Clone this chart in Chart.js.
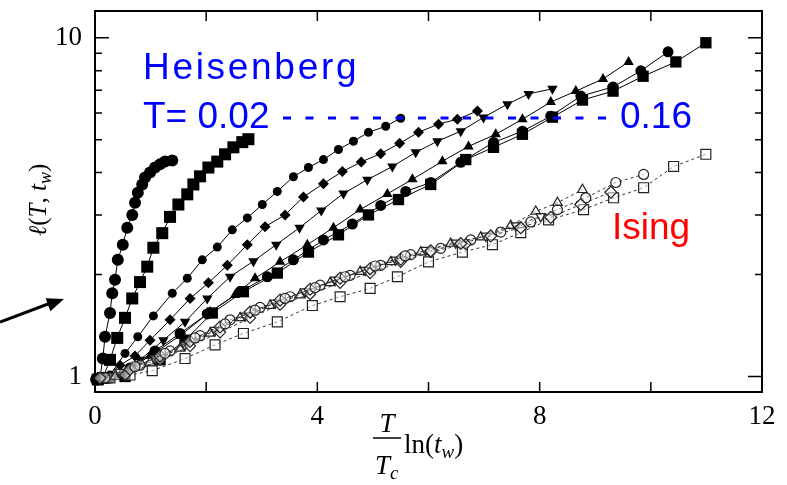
<!DOCTYPE html>
<html>
<head>
<meta charset="utf-8">
<script src="https://cdn.jsdelivr.net/npm/chart.js@4.4.0/dist/chart.umd.min.js"></script>
<style>
  html, body { margin: 0; padding: 0; background: #fff; }
  #wrap { width: 787px; height: 485px; }
</style>
</head>
<body>
<div id="wrap"><canvas id="lengthChart" width="787" height="485"></canvas></div>
<script>
// axis ticks
const xTicks = [0, 2, 4, 6, 8, 10, 12];
const xLabels = [0, 4, 8, 12];
const yTicks = [1, 2, 3, 4, 5, 6, 7, 8, 9, 10];
const yLabels = [1, 10];

// Heisenberg curves (filled symbols, solid lines)
const hCircleX = [0.02, 0.05, 0.09, 0.14, 0.18, 0.27, 0.31, 0.36, 0.41, 0.50, 0.58, 0.67, 0.72, 0.77, 0.85, 0.90, 0.99, 1.08, 1.17, 1.26, 1.39];
const hCircleY = [0.98, 0.98, 0.99, 1.13, 1.31, 1.54, 1.76, 1.93, 2.21, 2.45, 2.75, 3.00, 3.26, 3.49, 3.69, 3.87, 4.00, 4.14, 4.23, 4.31, 4.34];

const hSquareX = [0.05, 0.14, 0.27, 0.40, 0.54, 0.67, 0.81, 0.94, 1.05, 1.21, 1.35, 1.50, 1.66, 1.77, 1.89, 2.04, 2.20, 2.34, 2.49, 2.65, 2.76];
const hSquareY = [0.98, 0.99, 1.12, 1.30, 1.49, 1.70, 1.90, 2.11, 2.40, 2.65, 2.96, 3.22, 3.45, 3.69, 3.90, 4.14, 4.31, 4.53, 4.75, 4.92, 5.02];

const hHexX = [0.09, 0.27, 0.54, 0.77, 1.05, 1.39, 1.66, 1.93, 2.20, 2.47, 2.74, 3.01, 3.28, 3.57, 3.84, 4.11, 4.38, 4.65, 4.92, 5.23, 5.50];
const hHexY = [0.99, 1.01, 1.17, 1.31, 1.51, 1.76, 1.95, 2.21, 2.41, 2.71, 2.94, 3.22, 3.52, 3.89, 4.14, 4.37, 4.68, 4.95, 5.26, 5.48, 5.79];

const hDiamondX = [0.18, 0.45, 0.72, 0.99, 1.35, 1.71, 2.04, 2.38, 2.74, 3.06, 3.42, 3.75, 4.11, 4.45, 4.79, 5.14, 5.48, 5.82, 6.18, 6.52, 6.88];
const hDiamondY = [0.99, 1.08, 1.15, 1.28, 1.47, 1.70, 1.89, 2.13, 2.45, 2.77, 3.00, 3.39, 3.71, 4.03, 4.30, 4.55, 4.88, 5.26, 5.56, 5.75, 6.08];

const hDownX = [0.27, 0.81, 1.23, 1.62, 2.02, 2.43, 2.85, 3.26, 3.68, 4.07, 4.47, 4.90, 5.35, 5.77, 6.16, 6.58, 6.99, 7.42, 7.80, 8.23];
const hDownY = [0.99, 1.12, 1.28, 1.45, 1.70, 1.97, 2.19, 2.45, 2.75, 3.09, 3.47, 3.81, 4.17, 4.59, 4.95, 5.30, 5.82, 6.37, 6.83, 7.07];

const hUpX = [0.45, 0.99, 1.53, 2.07, 2.52, 2.88, 3.33, 3.82, 4.29, 4.77, 5.26, 5.71, 6.25, 6.72, 7.21, 7.69, 8.20, 8.65, 9.14, 9.60];
const hUpY = [1.01, 1.15, 1.32, 1.55, 1.74, 1.95, 2.18, 2.45, 2.75, 3.11, 3.46, 3.82, 4.32, 4.78, 5.19, 5.75, 6.46, 6.96, 7.56, 8.49];

const hDotX = [0.27, 0.63, 1.08, 1.53, 2.02, 2.61, 3.10, 3.57, 4.11, 4.63, 5.14, 5.59, 6.04, 6.58, 7.17, 7.69, 8.20, 8.74, 9.32, 9.82, 10.31];
const hDotY = [0.99, 1.06, 1.19, 1.34, 1.53, 1.78, 1.97, 2.21, 2.53, 2.82, 3.20, 3.52, 3.74, 4.29, 4.91, 5.30, 5.87, 6.73, 7.16, 7.99, 9.09];

const hBoxX = [0.54, 1.17, 1.62, 2.11, 2.67, 3.28, 3.84, 4.38, 4.92, 5.46, 6.04, 6.67, 7.17, 7.69, 8.23, 8.77, 9.32, 9.86, 10.45, 10.99];
const hBoxY = [1.00, 1.12, 1.28, 1.54, 1.78, 2.02, 2.33, 2.62, 3.00, 3.33, 3.69, 4.37, 4.75, 5.19, 5.83, 6.55, 6.96, 7.70, 8.49, 9.67];

// Ising curves (open symbols, dashed lines)
const iSquareX = [0.27, 0.63, 1.03, 1.62, 2.16, 2.67, 3.28, 3.91, 4.41, 4.95, 5.44, 6.00, 6.61, 7.15, 7.66, 8.16, 8.79, 9.33, 9.87, 10.41, 10.99];
const iSquareY = [0.99, 1.01, 1.04, 1.13, 1.24, 1.34, 1.45, 1.62, 1.72, 1.82, 1.97, 2.18, 2.33, 2.45, 2.66, 2.90, 3.11, 3.37, 3.61, 4.17, 4.53];

const iCircleX = [0.18, 0.81, 1.35, 1.89, 2.43, 2.97, 3.51, 4.05, 4.59, 5.14, 5.68, 6.22, 6.76, 7.30, 7.84, 8.32, 8.83, 9.37, 9.87];
const iCircleY = [0.99, 1.08, 1.19, 1.32, 1.47, 1.60, 1.72, 1.86, 1.99, 2.13, 2.29, 2.39, 2.53, 2.67, 2.86, 3.11, 3.37, 3.74, 3.95];

const iUpX = [0.36, 0.99, 1.53, 2.07, 2.61, 3.15, 3.69, 4.23, 4.77, 5.32, 5.86, 6.40, 6.94, 7.48, 7.93, 8.32, 8.77];
const iUpY = [1.00, 1.10, 1.21, 1.34, 1.49, 1.62, 1.74, 1.89, 2.04, 2.18, 2.33, 2.47, 2.58, 2.79, 3.07, 3.26, 3.56];

const iDownX = [0.45, 1.08, 1.62, 2.16, 2.70, 3.24, 3.78, 4.32, 4.86, 5.41, 5.95, 6.49, 7.03, 7.57, 8.02];
const iDownY = [1.03, 1.13, 1.24, 1.37, 1.51, 1.65, 1.78, 1.93, 2.06, 2.21, 2.36, 2.48, 2.60, 2.79, 2.97];

const iDiamondX = [0.54, 1.17, 1.71, 2.25, 2.79, 3.33, 3.87, 4.41, 4.95, 5.50, 6.04, 6.67];
const iDiamondY = [1.01, 1.12, 1.23, 1.35, 1.49, 1.63, 1.75, 1.89, 2.02, 2.18, 2.33, 2.46];

const iHexX = [0.09, 0.63, 1.17, 1.71, 2.25, 2.79, 3.33, 3.87, 4.41, 4.95, 5.50, 6.04, 6.58, 7.12, 7.66, 8.20, 8.74, 9.28];
const iHexY = [0.99, 1.05, 1.15, 1.27, 1.40, 1.55, 1.68, 1.81, 1.95, 2.08, 2.22, 2.35, 2.47, 2.60, 2.75, 2.95, 3.22, 3.50];

const iPentX = [0.72, 1.26, 1.80, 2.34, 2.88, 3.42, 3.96, 4.50, 5.04, 5.58];
const iPentY = [1.07, 1.17, 1.30, 1.43, 1.57, 1.70, 1.83, 1.97, 2.12, 2.27];

function pts(xs, ys) {
  return xs.map((x, i) => ({ x: x, y: ys[i] }));
}

function heis(xs, ys, style, radius, rotation) {
  return {
    data: pts(xs, ys),
    showLine: true,
    borderColor: '#000',
    borderWidth: 1,
    pointStyle: style,
    pointRadius: radius,
    pointRotation: rotation || 0,
    pointBackgroundColor: '#000',
    pointBorderColor: '#000',
    pointBorderWidth: 0,
    clip: false
  };
}

function ising(xs, ys, style, radius, rotation) {
  return {
    data: pts(xs, ys),
    showLine: true,
    borderColor: '#333',
    borderWidth: 1,
    borderDash: [3, 3],
    pointStyle: style,
    pointRadius: radius,
    pointRotation: rotation || 0,
    pointBackgroundColor: 'rgba(255,255,255,0.5)',
    pointBorderColor: '#222',
    pointBorderWidth: 1.2,
    clip: false
  };
}

const datasets = [
  ising(iPentX, iPentY, 'circle', 5),
  ising(iHexX, iHexY, 'rectRot', 6),
  ising(iDiamondX, iDiamondY, 'rectRot', 5.5),
  ising(iDownX, iDownY, 'triangle', 5.5, 180),
  ising(iUpX, iUpY, 'triangle', 5.5),
  ising(iCircleX, iCircleY, 'circle', 5),
  ising(iSquareX, iSquareY, 'rect', 7),
  heis(hCircleX, hCircleY, 'circle', 6),
  heis(hSquareX, hSquareY, 'rect', 8.5),
  heis(hHexX, hHexY, 'circle', 4.5),
  heis(hDiamondX, hDiamondY, 'rectRot', 5.5),
  heis(hDownX, hDownY, 'triangle', 6, 180),
  heis(hUpX, hUpY, 'triangle', 6),
  heis(hDotX, hDotY, 'circle', 5.5),
  heis(hBoxX, hBoxY, 'rect', 8)
];

const serif = '"Liberation Serif", "DejaVu Serif", serif';
const sans = '"Liberation Sans", Arial, sans-serif';

// draw a run of text pieces with mixed fonts, starting at x
function runText(ctx, x, y, pieces) {
  pieces.forEach(p => {
    ctx.font = p.font;
    ctx.fillText(p.t, x, y + (p.dy || 0));
    x += ctx.measureText(p.t).width;
  });
  return x;
}
function runWidth(ctx, pieces) {
  let w = 0;
  pieces.forEach(p => { ctx.font = p.font; w += ctx.measureText(p.t).width; });
  return w;
}

const frame = {
  id: 'frame',
  beforeDatasetsDraw(chart) {
    const { ctx, chartArea: a, scales: { x, y } } = chart;
    ctx.save();
    ctx.strokeStyle = '#000';
    ctx.lineWidth = 1.5;
    ctx.beginPath();
    xTicks.forEach(v => {
      const px = x.getPixelForValue(v);
      ctx.moveTo(px, a.bottom); ctx.lineTo(px, a.bottom - 10);
      ctx.moveTo(px, a.top); ctx.lineTo(px, a.top + 10);
    });
    yTicks.forEach(v => {
      const py = y.getPixelForValue(v);
      const len = yLabels.includes(v) ? 14 : 7;
      ctx.moveTo(a.left, py); ctx.lineTo(a.left + len, py);
      ctx.moveTo(a.right, py); ctx.lineTo(a.right - len, py);
    });
    ctx.stroke();
    ctx.lineWidth = 2;
    ctx.strokeRect(a.left, a.top, a.right - a.left, a.bottom - a.top);
    ctx.restore();
  },
  afterDraw(chart) {
    const ctx = chart.ctx;
    ctx.save();
    ctx.fillStyle = '#000';
    ctx.textBaseline = 'alphabetic';

    // y axis title  l(T, t_w)
    const it = 'italic 25px ' + serif, rm = '25px ' + serif, sub = 'italic 18px ' + serif;
    const yt = [
      { t: 'ℓ', font: it }, { t: '(', font: rm }, { t: 'T', font: it }, { t: ', ', font: rm },
      { t: 't', font: it }, { t: 'w', font: sub, dy: 5 }, { t: ')', font: rm }
    ];
    ctx.translate(46, 200);
    ctx.rotate(-Math.PI / 2);
    runText(ctx, -runWidth(ctx, yt) / 2, 0, yt);
    ctx.setTransform(1, 0, 0, 1, 0, 0);

    // x axis title  T/T_c ln(t_w)
    const it2 = 'italic 27px ' + serif, rm2 = '27px ' + serif, sub2 = 'italic 19px ' + serif;
    ctx.font = it2;
    ctx.textAlign = 'center';
    ctx.fillText('T', 387, 432);
    ctx.textAlign = 'left';
    runText(ctx, 375, 474, [{ t: 'T', font: it2 }, { t: 'c', font: sub2, dy: 5 }]);
    ctx.lineWidth = 1.5;
    ctx.strokeStyle = '#000';
    ctx.beginPath(); ctx.moveTo(373, 438); ctx.lineTo(401, 438); ctx.stroke();
    runText(ctx, 404, 453, [
      { t: 'ln(', font: rm2 }, { t: 't', font: it2 }, { t: 'w', font: sub2, dy: 5 }, { t: ')', font: rm2 }
    ]);

    // labels
    ctx.fillStyle = '#0000ff';
    ctx.font = '37px ' + sans;
    ctx.letterSpacing = '2.7px';
    ctx.fillText('Heisenberg', 143, 79);
    ctx.letterSpacing = '0px';
    ctx.fillText('T= 0.02', 143, 128);
    ctx.fillText('0.16', 620, 128);
    ctx.strokeStyle = '#0000ff';
    ctx.lineWidth = 3;
    ctx.setLineDash([8, 14.5]);
    ctx.beginPath(); ctx.moveTo(283, 118); ctx.lineTo(612, 118); ctx.stroke();
    ctx.setLineDash([]);
    ctx.fillStyle = '#ff0000';
    ctx.fillText('Ising', 612, 239);

    // arrow pointing at the axis
    ctx.strokeStyle = '#000';
    ctx.fillStyle = '#000';
    ctx.lineWidth = 3;
    ctx.beginPath(); ctx.moveTo(0, 322); ctx.lineTo(52, 302.5); ctx.stroke();
    const ang = Math.atan2(299 - 322, 64 - 0);
    ctx.translate(64, 299);
    ctx.rotate(ang);
    ctx.beginPath(); ctx.moveTo(0, 0); ctx.lineTo(-17, -7); ctx.lineTo(-17, 7); ctx.closePath(); ctx.fill();
    ctx.restore();
  }
};

new Chart(document.getElementById('lengthChart'), {
  type: 'scatter',
  data: { datasets: datasets },
  options: {
    responsive: false,
    animation: false,
    layout: { padding: { top: 11, right: 25, left: 0, bottom: 0 } },
    plugins: { legend: { display: false }, tooltip: { enabled: false } },
    scales: {
      x: {
        type: 'linear', min: 0, max: 12,
        afterBuildTicks: s => { s.ticks = xTicks.map(v => ({ value: v })); },
        afterFit: s => { s.height = 93; s.paddingLeft = 0; s.paddingRight = 0; },
        ticks: {
          autoSkip: false, maxRotation: 0, padding: 9, color: '#000',
          font: { family: serif, size: 27 },
          callback: v => xLabels.includes(v) ? String(v) : ''
        },
        grid: { display: false, drawTicks: false },
        border: { display: false }
      },
      y: {
        type: 'logarithmic', min: 0.9, max: 12,
        afterBuildTicks: s => { s.ticks = yTicks.map(v => ({ value: v })); },
        afterFit: s => { s.width = 95; s.paddingTop = 0; s.paddingBottom = 0; },
        ticks: {
          autoSkip: false, padding: 13, color: '#000',
          font: { family: serif, size: 27 },
          callback: v => yLabels.includes(v) ? String(v) : ''
        },
        grid: { display: false, drawTicks: false },
        border: { display: false }
      }
    }
  },
  plugins: [frame]
});
</script>
</body>
</html>
